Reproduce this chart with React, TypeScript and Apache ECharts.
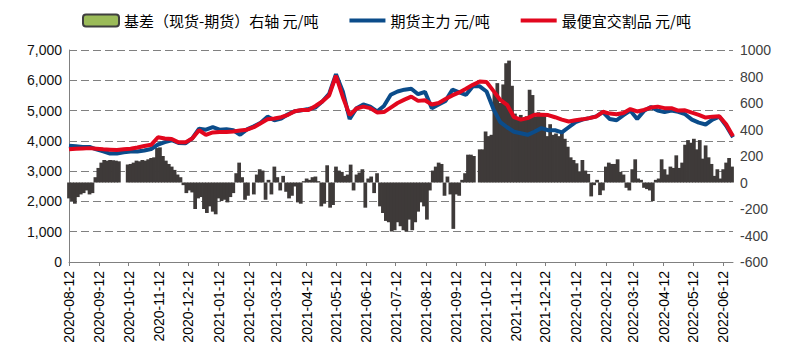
import React, { useEffect, useRef } from "react";
import * as echarts from "echarts";

// x categories: every calendar day from 2020-08-12 (680 days)
const START_UTC = Date.UTC(2020, 7, 12);
const DAY_COUNT = 680;
const BASIS_STEP = 3; // basis values read every 3 calendar days
const LINE_STEP = 7; // price values read every 7 calendar days

const basisName = "基差（现货-期货）右轴 元/吨";
const futuresName = "期货主力 元/吨";
const cheapestName = "最便宜交割品 元/吨";

// 基差 (right axis), one value every 3 days from 2020-08-12
const basisValues: (number | null)[] = [
  -120, -140, -160, -110, -90, -80, -60, -90, -80, 40,
  110, 150, 170, 165, 170, 168, 165, 160, null, null,
  135, 140, 150, 165, 160, 170, 165, 175, 185, 190,
  260, 265, 200, 165, 140, 120, 95, 60, 40, -20,
  -80, -60, -75, -200, -120, -110, -200, -230, -180, -220,
  -240, -120, -140, -130, -150, -110, -80, 70, 150, 40,
  -130, -100, null, -90, 60, 100, 90, -130, 20, -90,
  120, 40, -60, 50, -70, -120, -100, -30, -150, -160,
  10, 30, 20, 40, 45, 10, -180, -160, 130, -190,
  -170, 120, 90, 80, 50, 60, 135, -60, 60, 75,
  100, -190, 30, 45, -80, 70, -180, -230, -290, -300,
  -370, -360, -300, -330, -360, -370, -280, -360, -300, -220,
  -150, -180, -280, -60, 90, 120, 150, 140, -100, 45,
  -90, -350, -90, -100, 20, 70, 210, 210, 200, null,
  250, 250, 385, 350, 360, 680, 750, 600, 740, 900,
  920, 730, 520, 490, 510, 480, 500, 700, 660, 500,
  530, 510, 520, 350, 440, 360, 370, 350, 380, 330,
  270, 190, 170, 145, 80, 170, 90, 65, -105, -20,
  20, -95, -60, 120, 150, 140, 140, 175, 80, 60,
  -40, -60, 100, 175, 30, 20, -40, -50, -60, -140,
  20, 30, 175, 100, 60, 120, 110, 205, 110, 150,
  285, 320, 300, 330, 250, 320, 180, 280, 190, 140,
  50, 100, 30, 100, 150, 185, 120,
];

// 期货主力 (left axis), one value every 7 days from 2020-08-12
const futuresValues: number[] = [
  3840, 3820, 3800, 3800, 3720, 3650, 3580, 3580, 3620, 3650,
  3650, 3680, 3730, 3880, 3960, 4020, 3930, 3920, 4080, 4400,
  4370, 4450, 4370, 4380, 4350, 4200, 4380, 4480, 4600, 4800,
  4680, 4740, 4880, 4980, 5010, 5050, 5100, 5300, 5550, 6200,
  5630, 4720, 5080, 5200, 5130, 4970, 5150, 5520, 5630, 5690,
  5720, 5540, 5620, 5080, 5200, 5320, 5690, 5600, 5520, 5800,
  5800, 5630, 5050, 4620, 4450, 4300, 4250, 4200, 4300, 4420,
  4350, 4350, 4280, 4450, 4620, 4700, 4750, 4810, 4950, 4720,
  4680, 4850, 5000, 4720, 4990, 5120, 5000, 4950, 5000, 4960,
  4880, 4700, 4600, 4540, 4700, 4800, 4500, 4120,
];

// 最便宜交割品 (left axis), one value every 7 days from 2020-08-12
const cheapestValues: number[] = [
  3720, 3740, 3750, 3760, 3740, 3720, 3710, 3700, 3720, 3740,
  3780, 3830, 3870, 4120, 4080, 4060, 3950, 3950, 4080, 4350,
  4200, 4280, 4290, 4290, 4310, 4340, 4370, 4450, 4580, 4710,
  4740, 4780, 4860, 4980, 5020, 5020, 5150, 5300, 5500, 6150,
  5450, 4850, 5070, 5130, 5080, 4940, 4950, 5100, 5250, 5360,
  5460, 5320, 5340, 5200, 5250, 5380, 5500, 5600, 5720, 5850,
  5960, 5940, 5650, 5350, 5190, 4780, 4700, 4750, 4860, 4860,
  4850, 4780, 4700, 4640, 4680, 4710, 4750, 4800, 4960, 4900,
  4880, 4920, 5050, 4970, 5020, 5100, 5130, 5080, 5080, 5000,
  5010, 4930, 4860, 4770, 4800, 4810, 4550, 4150,
];

function pad(n: number) {
  return n < 10 ? "0" + n : String(n);
}

const dates: string[] = Array.from({ length: DAY_COUNT }, (_, i) => {
  const d = new Date(START_UTC + i * 86400000);
  return d.getUTCFullYear() + "-" + pad(d.getUTCMonth() + 1) + "-" + pad(d.getUTCDate());
});

// basis as [day index, value] pairs, holidays (null) left out
const basisData: [number, number][] = [];
basisValues.forEach((v, i) => {
  if (v !== null && i * BASIS_STEP < DAY_COUNT) basisData.push([i * BASIS_STEP, v]);
});

function spread(values: (number | null)[], step: number) {
  const arr: (number | null)[] = new Array(DAY_COUNT).fill(null);
  values.forEach((v, i) => {
    if (i * step < DAY_COUNT) arr[i * step] = v;
  });
  return arr;
}

function thousands(v: number) {
  return String(v).replace(/\B(?=(\d{3})+(?!\d))/g, ",");
}

const isTick = (_: number, value: string) => value.slice(8) === "12";

export default function App() {
  const ref = useRef<HTMLDivElement>(null);
  useEffect(() => {
    document.body.style.margin = "0";
    if (!ref.current) return;
    const chart = echarts.init(ref.current, null, { renderer: "svg" });
    const axisFont = "Liberation Sans, Arial, sans-serif";
    const barColor = "#3E3A39";
    chart.setOption({
      animation: false,
      backgroundColor: "#ffffff",
      legend: {
        left: 77,
        top: 8,
        itemGap: 31,
        itemWidth: 36,
        itemHeight: 12,
        textStyle: { fontSize: 15, color: "#000", fontFamily: "Noto Sans CJK SC" },
        data: [
          {
            name: basisName,
            icon: "roundRect",
            itemStyle: { color: "#9BBB59", borderColor: "#3F3F3F", borderWidth: 2 },
          },
          { name: futuresName, icon: "path://M0,0H36V4H0Z" },
          { name: cheapestName, icon: "path://M0,0H36V4H0Z" },
        ],
      },
      grid: { left: 69, right: 77, top: 50, bottom: 101, containLabel: false },
      xAxis: {
        type: "category",
        data: dates,
        boundaryGap: false,
        axisLine: { lineStyle: { color: "#808080", width: 1 } },
        axisTick: { interval: isTick, length: 4, lineStyle: { color: "#808080" } },
        axisLabel: {
          interval: isTick,
          rotate: 90,
          margin: 9,
          fontSize: 14,
          color: "#000",
          fontFamily: axisFont,
        },
        splitLine: { show: false },
      },
      yAxis: [
        {
          type: "value",
          min: 0,
          max: 7000,
          interval: 1000,
          axisLine: { show: true, lineStyle: { color: "#808080" } },
          axisTick: { show: false },
          axisLabel: {
            margin: 7,
            fontSize: 14,
            color: "#111",
            fontFamily: axisFont,
            formatter: (v: number) => thousands(v),
          },
          splitLine: { show: true, lineStyle: { color: "#808080", type: [8, 4], width: 1 } },
        },
        {
          type: "value",
          min: -600,
          max: 1000,
          interval: 200,
          position: "right",
          axisLine: { show: false },
          axisTick: { show: false },
          axisLabel: {
            margin: 7,
            fontSize: 14,
            color: "#404040",
            fontFamily: axisFont,
            formatter: (v: number) => String(v),
          },
          splitLine: { show: false },
        },
      ],
      series: [
        {
          name: basisName,
          type: "custom",
          xAxisIndex: 0,
          yAxisIndex: 1,
          data: basisData,
          itemStyle: { color: barColor },
          z: 2,
          renderItem: (params: any, api: any) => {
            const x = Number(api.value(0));
            const v = Number(api.value(1));
            const p0 = api.coord([x, 0]);
            const p1 = api.coord([x, v]);
            const pNext = api.coord([x + BASIS_STEP, 0]);
            const w = Math.abs(pNext[0] - p0[0]) + 0.8;
            return {
              type: "rect",
              shape: {
                x: p0[0] - w / 2,
                y: Math.min(p0[1], p1[1]),
                width: w,
                height: Math.abs(p1[1] - p0[1]),
              },
              style: { fill: barColor },
            };
          },
        },
        {
          name: futuresName,
          type: "line",
          yAxisIndex: 0,
          symbol: "none",
          connectNulls: true,
          data: spread(futuresValues, LINE_STEP),
          lineStyle: { color: "#0B4C8A", width: 4 },
          itemStyle: { color: "#0B4C8A" },
          z: 3,
        },
        {
          name: cheapestName,
          type: "line",
          yAxisIndex: 0,
          symbol: "none",
          connectNulls: true,
          data: spread(cheapestValues, LINE_STEP),
          lineStyle: { color: "#E2071E", width: 4 },
          itemStyle: { color: "#E2071E" },
          z: 4,
        },
      ],
    });
    return () => chart.dispose();
  }, []);
  return <div ref={ref} style={{ width: 810, height: 363 }} />;
}
